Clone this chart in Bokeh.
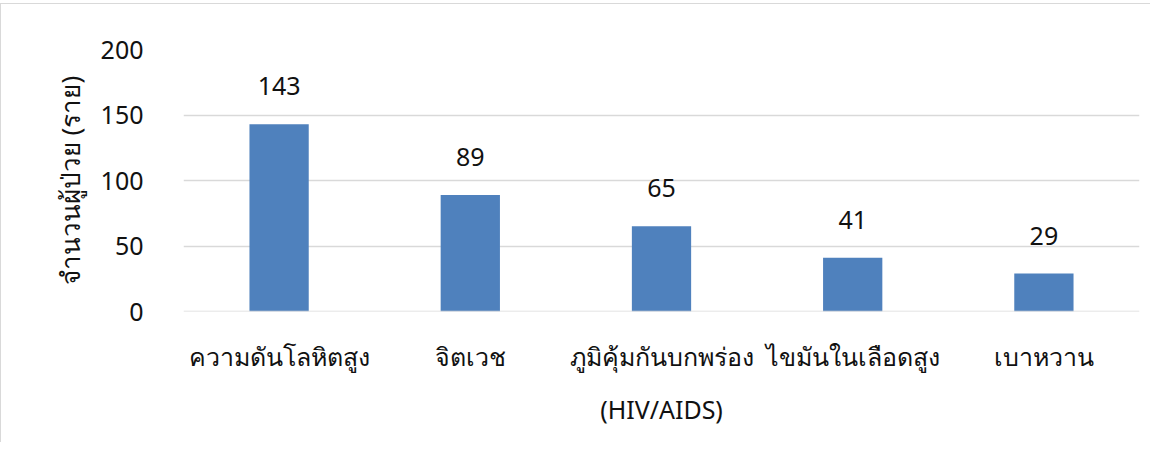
from bokeh.plotting import figure
from bokeh.models import ColumnDataSource, CategoricalAxis, FactorRange, Range1d, Span
from bokeh.embed import file_html
from bokeh.resources import INLINE
from bokeh.core.properties import value

categories = ["ความดันโลหิตสูง", "จิตเวช", "ภูมิคุ้มกันบกพร่อง", "ไขมันในเลือดสูง", "เบาหวาน"]
second_line = [" ", "  ", "(HIV/AIDS)", "   ", "    "]
patients = [143, 89, 65, 41, 29]
y_ticks = [0, 50, 100, 150, 200]
y_label = "จำนวนผู้ป่วย (ราย)"

FONT = "Noto Sans"
TXT = "#111111"
GRID = "#d9d9d9"

src = ColumnDataSource(dict(cat=categories, v=patients, lab=[str(x) for x in patients]))

p = figure(width=1150, height=439, x_range=FactorRange(*categories, range_padding=0),
           y_range=Range1d(0, 200), output_backend="svg", toolbar_location=None,
           min_border_left=182, min_border_right=12, min_border_top=45, min_border_bottom=132)
p.styles = {"border-top": "1px solid #d9d9d9", "border-left": "1px solid #d9d9d9", "margin-top": "3px"}
p.extra_x_ranges = {"line2": FactorRange(*second_line, range_padding=0)}

p.vbar(x="cat", top="v", width=0.31, source=src, fill_color="#4f81bd", line_color=None)
p.text(x="cat", y="v", text="lab", source=src, text_align="center", text_baseline="bottom",
       y_offset=-29, text_font=value(FONT), text_font_size="25px", text_color=TXT)

p.outline_line_color = None
p.xgrid.grid_line_color = None
p.ygrid.grid_line_color = GRID
p.ygrid.grid_line_width = 1.3
p.yaxis.ticker = y_ticks
p.add_layout(Span(location=0, dimension="width", line_color=GRID, line_width=1.3))

for ax in (p.xaxis[0], p.yaxis[0]):
    ax.axis_line_color = None
    ax.major_tick_line_color = None
    ax.minor_tick_line_color = None
    ax.major_label_text_font = FONT
    ax.major_label_text_font_size = "25px"
    ax.major_label_text_color = TXT

p.xaxis.major_label_standoff = 21
p.yaxis.major_label_standoff = 34
p.yaxis.axis_label = y_label
p.yaxis.axis_label_text_font = FONT
p.yaxis.axis_label_text_font_size = "26px"
p.yaxis.axis_label_text_font_style = "normal"
p.yaxis.axis_label_text_color = TXT
p.yaxis.axis_label_standoff = 10

ax2 = CategoricalAxis(x_range_name="line2")
ax2.axis_line_color = None
ax2.major_tick_line_color = None
ax2.minor_tick_line_color = None
ax2.major_label_text_font = FONT
ax2.major_label_text_font_size = "25px"
ax2.major_label_text_color = TXT
ax2.major_label_standoff = 10
p.add_layout(ax2, "below")

open("out.html", "w").write(file_html(p, INLINE))
